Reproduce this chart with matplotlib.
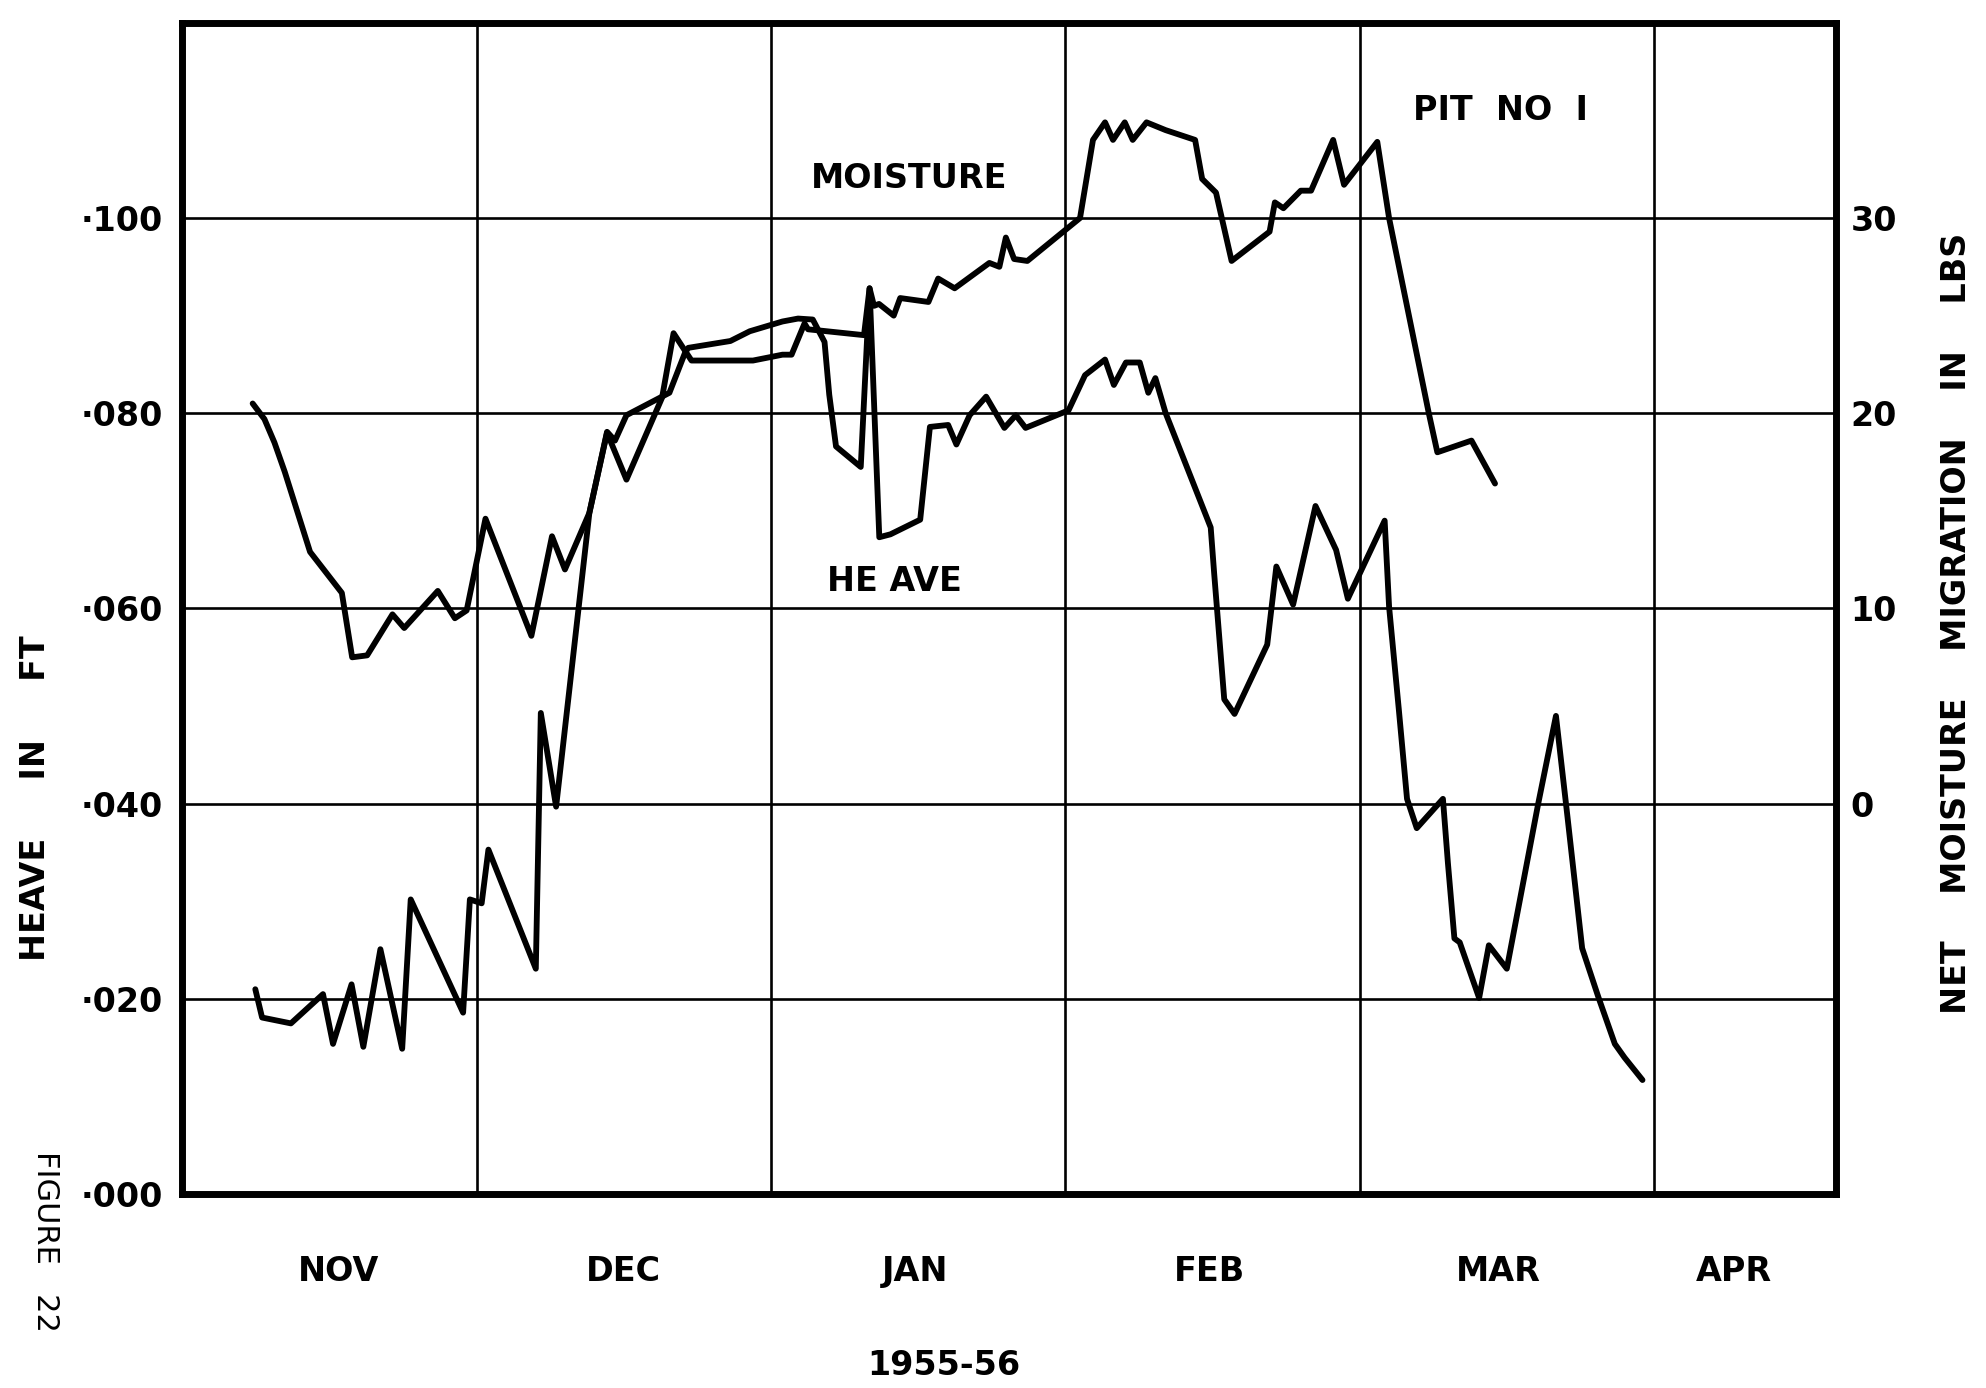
import matplotlib.pyplot as plt

# months along the bottom, x = months after 1 Nov 1955
months = ["NOV", "DEC", "JAN", "FEB", "MAR", "APR"]
month_pos = [0.53, 1.5, 2.49, 3.49, 4.47, 5.27]

heave_ticks = [0.000, 0.020, 0.040, 0.060, 0.080, 0.100]
heave_labels = ["·000", "·020", "·040", "·060", "·080", "·100"]
moist_ticks = [0, 10, 20, 30]

# heave, ft
heave_t = [0.248, 0.271, 0.369, 0.478, 0.512, 0.575, 0.615, 0.673, 0.747, 0.776,
           0.954, 0.977, 1.017, 1.040, 1.201, 1.218, 1.270, 1.383, 1.443, 1.470,
           1.509, 1.655, 1.708, 1.719, 1.862, 1.928, 2.039, 2.092, 2.142, 2.182,
           2.198, 2.221, 2.305, 2.335, 2.368, 2.406, 2.507, 2.540, 2.602, 2.630,
           2.675, 2.731, 2.793, 2.832, 2.865, 3.011, 3.067, 3.135, 3.165, 3.206,
           3.253, 3.282, 3.306, 3.341, 3.494, 3.506, 3.540, 3.575, 3.686, 3.717,
           3.774, 3.850, 3.920, 3.960, 4.085, 4.100, 4.133, 4.161, 4.194, 4.283,
           4.300, 4.322, 4.340, 4.406, 4.439, 4.500, 4.606, 4.667, 4.706, 4.756,
           4.811, 4.867, 4.900, 4.961]
heave_ft = [0.0210, 0.0181, 0.0175, 0.0205, 0.0154, 0.0215, 0.0151, 0.0251, 0.0149, 0.0302,
            0.0186, 0.0302, 0.0298, 0.0353, 0.0231, 0.0493, 0.0397, 0.0698, 0.0781, 0.0772,
            0.0798, 0.0821, 0.0862, 0.0867, 0.0874, 0.0884, 0.0894, 0.0897, 0.0896, 0.0873,
            0.0819, 0.0766, 0.0745, 0.0928, 0.0673, 0.0676, 0.0691, 0.0786, 0.0788, 0.0768,
            0.0798, 0.0817, 0.0785, 0.0798, 0.0785, 0.0803, 0.0839, 0.0855, 0.0829, 0.0852,
            0.0852, 0.0821, 0.0836, 0.0800, 0.0683, 0.0635, 0.0507, 0.0492, 0.0563, 0.0643,
            0.0604, 0.0705, 0.0660, 0.0610, 0.0690, 0.0602, 0.0497, 0.0405, 0.0375, 0.0405,
            0.0339, 0.0262, 0.0258, 0.0201, 0.0255, 0.0231, 0.0399, 0.0490, 0.0387, 0.0252,
            0.0202, 0.0154, 0.0140, 0.0117]

# net moisture migration, lbs
moist_t = [0.239, 0.279, 0.313, 0.348, 0.434, 0.542, 0.577, 0.628, 0.714, 0.754,
           0.868, 0.926, 0.966, 1.030, 1.186, 1.256, 1.300, 1.383, 1.443, 1.509,
           1.630, 1.669, 1.708, 1.730, 1.939, 2.039, 2.070, 2.114, 2.126, 2.316,
           2.335, 2.350, 2.367, 2.417, 2.439, 2.535, 2.568, 2.624, 2.742, 2.776,
           2.798, 2.826, 2.871, 3.050, 3.094, 3.135, 3.162, 3.202, 3.229, 3.276,
           3.341, 3.441, 3.465, 3.512, 3.565, 3.694, 3.712, 3.741, 3.800, 3.835,
           3.910, 3.947, 4.060, 4.100, 4.235, 4.264, 4.380, 4.460]
moist_lbs = [20.5, 19.7, 18.5, 17.0, 12.9, 10.8, 7.5, 7.6, 9.7, 9.0,
             10.9, 9.5, 9.9, 14.6, 8.6, 13.7, 12.0, 14.9, 19.0, 16.6,
             20.8, 24.1, 23.2, 22.7, 22.7, 23.0, 23.0, 24.6, 24.3, 24.0,
             26.4, 25.5, 25.6, 25.0, 25.9, 25.7, 26.9, 26.4, 27.7, 27.5,
             29.0, 27.9, 27.8, 30.0, 34.0, 34.9, 34.0, 34.9, 34.0, 34.9,
             34.5, 34.0, 32.0, 31.3, 27.8, 29.3, 30.8, 30.5, 31.4, 31.4,
             34.0, 31.7, 33.9, 30.0, 20.0, 18.0, 18.6, 16.4]

FONT = "DejaVu Sans"
LINE = dict(color="black", lw=4.2, solid_joinstyle="round",
            solid_capstyle="round", zorder=3)

fig = plt.figure(figsize=(19.86, 13.88), dpi=100)
ax = fig.add_axes([0.0918, 0.1396, 0.8329, 0.844])
ax.set_xlim(0, 5.62)
ax.set_ylim(0, 0.120)

# grid: month boundaries and every .020 ft
for m in range(1, 6):
    ax.axvline(m, color="black", lw=1.9, zorder=1)
for h in heave_ticks[1:]:
    ax.axhline(h, color="black", lw=1.9, zorder=1)

for s in ax.spines.values():
    s.set_linewidth(5)

ax.set_yticks(heave_ticks)
ax.set_yticklabels(heave_labels, fontsize=24, fontweight="bold", family=FONT)
ax.set_xticks(month_pos)
ax.set_xticklabels(months, fontsize=24, fontweight="bold", family=FONT)
ax.tick_params(axis="y", length=0, pad=14)
ax.tick_params(axis="x", length=0, pad=44)

ax.plot(heave_t, heave_ft, **LINE)

ax2 = ax.twinx()
ax2.set_ylim(-20, 40)
ax2.set_yticks(moist_ticks)
ax2.set_yticklabels([str(v) for v in moist_ticks], fontsize=24, fontweight="bold", family=FONT)
ax2.tick_params(axis="y", length=0, pad=10)
for s in ax2.spines.values():
    s.set_visible(False)
ax2.plot(moist_t, moist_lbs, **LINE)

ax.text(2.47, 0.1040, "MOISTURE", fontsize=24, fontweight="bold", family=FONT,
        ha="center", va="center")
ax.text(2.42, 0.0628, "HE AVE", fontsize=24, fontweight="bold", family=FONT,
        ha="center", va="center")
ax.text(4.48, 0.1110, "PIT  NO  I", fontsize=24, fontweight="bold", family=FONT,
        ha="center", va="center")

fig.text(28 / 1568, 1 - 630 / 1096, "HEAVE     IN     FT", rotation=90, fontsize=24,
         fontweight="bold", family=FONT, ha="center", va="center")
fig.text(1545 / 1568, 1 - 492 / 1096, "NET    MOISTURE    MIGRATION    IN    LBS",
         rotation=90, fontsize=24, fontweight="bold", family=FONT,
         ha="center", va="center")
fig.text(745 / 1568, 1 - 1078 / 1096, "1955-56", fontsize=24, fontweight="bold",
         family=FONT, ha="center", va="center")
fig.text(36 / 1568, 1 - 980 / 1096, "FIGURE   22", rotation=-90, fontsize=22,
         family=FONT, ha="center", va="center")

fig.savefig("out.png", dpi=100)
